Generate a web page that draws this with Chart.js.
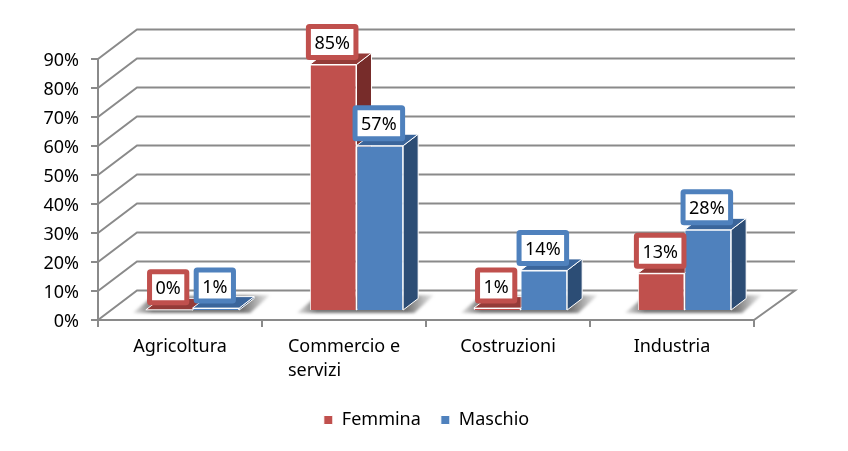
<!DOCTYPE html>
<html lang="it">
<head>
  <meta charset="UTF-8">
  <title>Settore per genere</title>
  <script src="https://cdn.jsdelivr.net/npm/chart.js"></script>
  <style>
    body { margin: 0; background: #fff; }
    #wrap { width: 848px; height: 451px; }
  </style>
</head>
<body>
  <div id="wrap"><canvas id="chart" width="848" height="451"></canvas></div>
  <script>
    const categories = [['Agricoltura'], ['Commercio e', 'servizi'], ['Costruzioni'], ['Industria']];
    const femmina = [0.4, 85, 1, 13];
    const maschio = [1, 57, 14, 28];
    const femminaLabels = ['0%', '85%', '1%', '13%'];
    const maschioLabels = ['1%', '57%', '14%', '28%'];

    const FONT = '"Noto Sans", sans-serif';
    const GRID = '#8a8a8a';
    const WALL_X = 39, WALL_Y = 29.5;   // depth of the wall
    const BAR_X = 12.5, BAR_Y = 9;      // bars stand in the middle of the floor
    const SIDE_X = 15, SIDE_Y = 11.5;   // depth of one bar

    const walls = {
      id: 'walls',
      beforeDatasetsDraw(chart) {
        const { ctx, chartArea: a, scales } = chart;
        ctx.save();
        ctx.strokeStyle = GRID;
        ctx.lineWidth = 2;
        const right = a.right + WALL_X + 2;
        scales.y.ticks.forEach(t => {
          const p = scales.y.getPixelForValue(t.value);
          ctx.beginPath();
          ctx.moveTo(a.left, p);
          ctx.lineTo(a.left + WALL_X, p - WALL_Y);
          ctx.lineTo(right, p - WALL_Y);
          if (t.value === 0) ctx.lineTo(a.right, p);
          ctx.stroke();
        });
        // shadow of each pair of bars on the floor
        const m0 = chart.getDatasetMeta(0).data, m1 = chart.getDatasetMeta(1).data;
        m0.forEach((bar, i) => {
          const L = bar.x - bar.width / 2 + BAR_X;
          const R = m1[i].x + m1[i].width / 2 + BAR_X;
          const g = ctx.createLinearGradient(L - 14, 0, R + 32, 0);
          g.addColorStop(0, 'rgba(70,70,70,0.1)');
          g.addColorStop(0.15, 'rgba(70,70,70,0.75)');
          g.addColorStop(0.8, 'rgba(70,70,70,0.75)');
          g.addColorStop(1, 'rgba(70,70,70,0.05)');
          ctx.filter = 'blur(1.5px)';
          ctx.fillStyle = g;
          ctx.beginPath();
          ctx.moveTo(L - 13, 313);
          ctx.lineTo(L + 6, 297);
          ctx.lineTo(R + 31, 295);
          ctx.lineTo(R + 11, 313);
          ctx.closePath();
          ctx.fill();
          ctx.filter = 'none';
        });
        ctx.restore();
        ctx.save();
        ctx.translate(BAR_X, -BAR_Y);
        // side and top faces first, the library then draws the fronts over them
        chart.data.datasets.forEach((ds, d) => {
          chart.getDatasetMeta(d).data.forEach(bar => {
            const l = bar.x - bar.width / 2, r = bar.x + bar.width / 2, t = bar.y, b = bar.base;
            ctx.strokeStyle = '#fff';
            ctx.lineWidth = 1;
            ctx.fillStyle = ds.sideColor;
            ctx.beginPath();
            ctx.moveTo(r, t);
            ctx.lineTo(r + SIDE_X, t - SIDE_Y);
            ctx.lineTo(r + SIDE_X, b - SIDE_Y);
            ctx.lineTo(r, b);
            ctx.closePath();
            ctx.fill();
            ctx.stroke();
            ctx.fillStyle = ds.topColor;
            ctx.beginPath();
            ctx.moveTo(l, t);
            ctx.lineTo(l + SIDE_X, t - SIDE_Y);
            ctx.lineTo(r + SIDE_X, t - SIDE_Y);
            ctx.lineTo(r, t);
            ctx.closePath();
            ctx.fill();
            ctx.stroke();
          });
        });
      },
      afterDatasetsDraw(chart) {
        const { ctx, scales } = chart;
        ctx.restore();
        // value boxes
        ctx.save();
        ctx.font = '18px ' + FONT;
        ctx.textAlign = 'center';
        ctx.textBaseline = 'middle';
        chart.data.datasets.forEach((ds, d) => {
          chart.getDatasetMeta(d).data.forEach((bar, i) => {
            const text = ds.valueLabels[i];
            const w = ctx.measureText(text).width + 17, h = 36;
            const cx = bar.x + BAR_X - 1, cy = bar.y - BAR_Y - 22.5;
            ctx.beginPath();
            ctx.roundRect(cx - w / 2 + 2.5, cy - h / 2 + 2.5, w - 5, h - 5, 1);
            ctx.fillStyle = '#fff';
            ctx.fill();
            ctx.lineWidth = 5;
            ctx.strokeStyle = ds.backgroundColor;
            ctx.stroke();
            ctx.fillStyle = '#000';
            ctx.fillText(text, cx, cy + 2);
          });
        });
        // category names, left aligned inside their block
        ctx.textAlign = 'left';
        categories.forEach((lines, i) => {
          const cx = scales.x.getPixelForValue(i);
          const w = Math.max(...lines.map(s => ctx.measureText(s).width));
          lines.forEach((s, k) => ctx.fillText(s, cx - w / 2, 347 + k * 24));
        });
        ctx.restore();
      }
    };

    new Chart(document.getElementById('chart'), {
      type: 'bar',
      data: {
        labels: categories,
        datasets: [
          { label: 'Femmina', data: femmina, valueLabels: femminaLabels, clip: false,
            backgroundColor: '#C0504D', borderColor: '#fff', borderWidth: 1,
            sideColor: '#772C2A', topColor: '#943B38',
            barPercentage: 1, categoryPercentage: 0.569 },
          { label: 'Maschio', data: maschio, valueLabels: maschioLabels, clip: false,
            backgroundColor: '#4F81BD', borderColor: '#fff', borderWidth: 1,
            sideColor: '#2C4D75', topColor: '#3A659B',
            barPercentage: 1, categoryPercentage: 0.569 }
        ]
      },
      options: {
        responsive: false,
        animation: false,
        layout: { padding: { top: 59, left: 5, right: 0, bottom: 12 } },
        plugins: {
          tooltip: { enabled: false },
          legend: {
            position: 'bottom',
            labels: { boxWidth: 9, boxHeight: 9, padding: 20, color: '#000', font: { family: FONT, size: 18 } }
          }
        },
        scales: {
          x: {
            grid: { drawOnChartArea: false, color: GRID, lineWidth: 2, tickLength: 7 },
            border: { color: GRID, width: 2 },
            ticks: { display: false },
            afterFit(s) { s.height = 71; }
          },
          y: {
            min: 0,
            max: 90,
            grid: { drawOnChartArea: false, color: GRID, lineWidth: 2, tickLength: 7 },
            border: { color: GRID, width: 2 },
            ticks: { stepSize: 10, color: '#000', padding: 12, labelOffset: 2, font: { family: FONT, size: 18 }, callback: v => v + '%' },
            afterFit(s) { s.width = 93; }
          },
          // empty axis, only keeps the room the right wall needs
          spacer: {
            position: 'right',
            grid: { display: false },
            border: { display: false },
            ticks: { display: false },
            afterFit(s) { s.width = 94; }
          }
        }
      },
      plugins: [walls]
    });
  </script>
</body>
</html>
